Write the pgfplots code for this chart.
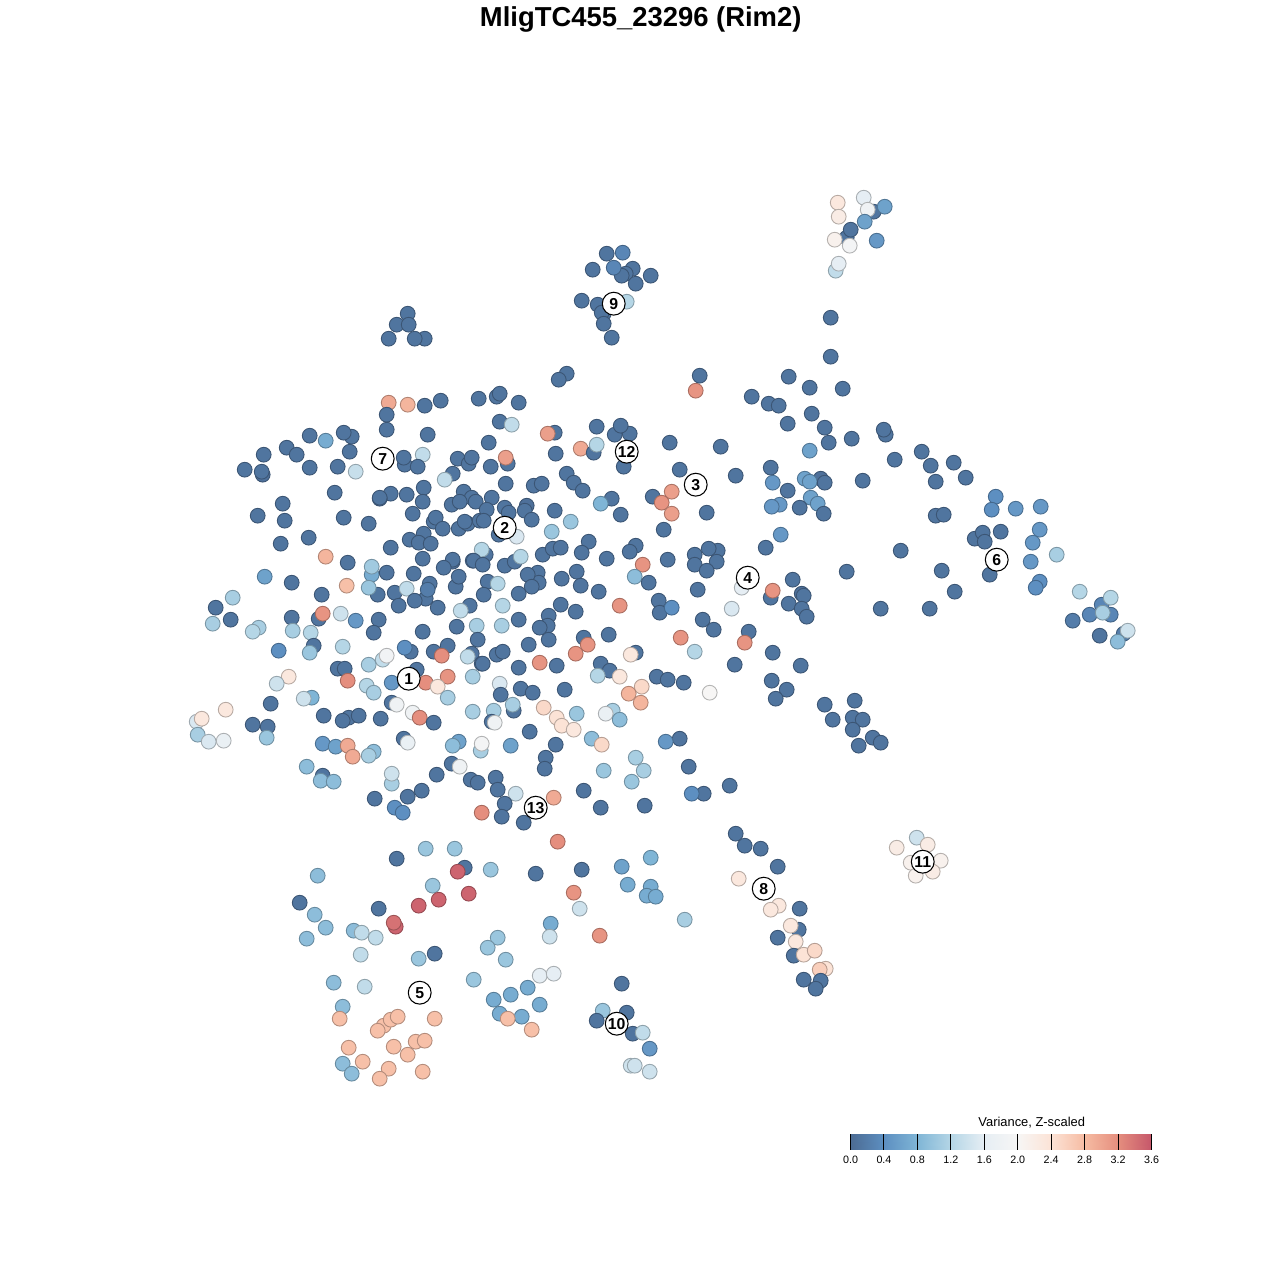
\documentclass[border=0pt]{standalone}
\usepackage{fontspec}
\setmainfont{Liberation Sans}
\usepackage{pgfplots}
\pgfplotsset{compat=1.18}
\pgfplotsset{colormap={vr}{rgb255=(76,108,148) rgb255=(93,143,193) rgb255=(127,181,214) rgb255=(181,214,230) rgb255=(230,238,244) rgb255=(247,246,245) rgb255=(252,227,214) rgb255=(246,187,162) rgb255=(229,142,126) rgb255=(197,86,106)}}
\begin{document}
\begin{tikzpicture}
\fill[white] (0,0) rectangle (12.8cm,12.8cm);
\useasboundingbox (0,0) rectangle (12.8cm,12.8cm);
\begin{axis}[at={(0,0)},anchor=south west,width=12.8cm,height=12.8cm,scale only axis,
  xmin=-0.7,xmax=1279.3,ymin=-0.7,ymax=1279.3,y dir=reverse,hide axis,clip=false,
  colormap name=vr,point meta min=0,point meta max=3.6]
\addplot[scatter,only marks,mark=*,mark size=2.1pt,
  scatter src=explicit,
  scatter/use mapped color={draw=black!27!mapped color,fill=mapped color},
  mark options={line width=0.25pt}]
 table[x index=0,y index=1,meta index=2] {
388 402 2.95
407 404 2.85
424 405 .1
440 400 .1
386 414 .1
386 429 .1
427 434 .1
309 435 .1
325 440 .7
351 436 .1
343 432 .1
263 454 .1
286 447 .1
296 454 .1
349 451 .1
244 469 .1
262 474 .05
261 471 .1
309 467 .1
337 466 .1
355 471 1.35
404 464 .1
403 457 .1
422 454 1.3
417 466 .1
457 458 .1
468 463 .1
471 457 .1
452 473 .1
444 479 1.3
334 492 .1
390 493 .1
379 498 .05
379 497 .1
406 494 .1
423 487 .1
422 501 .1
451 504 .1
463 491 .1
471 497 .1
475 501 .1
459 501 .1
282 503 .1
257 515 .1
284 520 .1
343 517 .1
368 523 .1
412 513 .1
433 521 .1
435 517 .1
442 528 .1
458 528 .1
467 523 .1
464 521 .1
479 520 .1
308 537 .1
280 543 .1
325 556 2.85
390 547 .1
423 533 .1
409 539 .1
418 542 .1
430 543 .1
422 558 .1
452 561 .05
452 559 .1
443 567 .1
472 560 .1
371 574 .7
371 566 1.05
347 562 .1
386 572 .1
413 573 .1
455 586 .1
458 576 .1
264 576 .6
291 582 .1
346 585 2.75
377 594 .1
368 587 1.0
394 592 .1
406 588 1.3
429 583 .1
425 598 .1
427 589 .2
414 600 .1
398 605 .1
437 607 .1
469 605 .1
460 610 1.3
321 594 .1
232 597 1.1
215 607 .1
212 623 1.1
230 619 .1
258 627 1.1
252 631 1.2
291 617 .1
292 630 1.1
318 618 .1
322 613 3.15
340 613 1.4
355 620 .5
378 619 .1
373 632 .1
310 632 1.2
313 645 .1
309 652 1.0
422 631 .1
456 626 .1
476 625 1.1
477 639 .1
278 650 .4
342 646 1.2
382 659 1.3
386 655 1.85
410 651 .1
404 647 .4
433 651 .1
447 645 .1
441 655 3.2
471 653 .1
467 656 1.3
481 663 .1
472 676 1.1
368 664 1.1
337 668 .1
344 668 .1
347 680 3.2
288 676 2.3
276 683 1.4
447 676 3.15
416 669 .1
391 682 .5
425 682 3.2
437 686 2.3
311 697 .8
303 698 1.4
270 703 .1
225 709 2.3
196 721 1.5
201 718 2.3
197 734 1.1
208 741 1.5
223 740 1.7
252 724 .1
267 726 .1
266 737 1.0
323 715 .1
348 717 .1
358 715 .1
342 720 .1
380 718 .1
366 685 1.2
373 692 1.1
391 702 .1
396 704 1.8
412 712 1.8
419 717 3.2
433 722 .1
447 697 1.1
472 711 1.1
403 738 .1
407 742 1.7
322 743 .5
335 746 .6
347 745 2.95
352 756 2.95
373 751 .9
368 755 1.1
458 741 .6
452 745 .9
306 766 .9
322 775 .1
320 780 .9
333 781 .9
391 783 1.1
391 773 1.4
436 774 .1
451 763 .1
459 766 1.8
470 779 .1
477 782 .1
421 790 .1
407 796 .1
374 798 .1
394 807 .4
402 812 .4
425 848 1.0
454 848 1.0
396 858 .1
518 667 .1
539 662 3.15
556 665 .1
499 683 1.5
500 694 .1
520 688 .1
532 692 .1
564 689 .1
600 663 .1
609 670 .1
597 675 1.2
619 676 2.3
656 676 .1
667 679 .1
683 682 .1
734 664 .1
709 692 2.0
641 686 2.5
628 693 2.85
640 702 2.85
543 707 2.5
513 710 .1
512 704 1.1
493 710 1.1
491 721 .1
494 722 1.8
556 717 2.4
561 725 2.4
573 729 2.3
576 713 1.0
612 710 1.1
605 713 1.7
619 719 .9
529 731 .1
555 744 .1
545 757 .1
544 768 .1
510 745 .6
480 750 1.1
481 743 1.9
591 738 .9
601 744 2.5
679 738 .1
665 741 .5
688 766 .1
635 757 1.1
643 770 1.1
603 770 1.0
631 781 1.0
729 785 .1
703 793 .1
691 793 .4
583 790 .1
600 807 .1
644 805 .1
553 797 2.95
515 793 1.4
495 777 .1
497 789 .1
504 803 .1
501 816 .1
481 812 3.2
523 822 .1
557 841 3.2
650 857 .8
735 833 .1
744 845 .1
760 848 .1
478 398 .1
496 396 .1
499 393 .1
518 402 .1
499 421 .1
511 424 1.3
554 432 .1
547 433 3.05
596 426 .1
614 434 .1
629 433 .1
620 425 .1
669 442 .1
720 446 .1
695 390 3.15
699 375 .1
488 442 .1
555 453 .1
580 448 2.95
593 452 .1
596 444 1.2
623 466 .1
490 466 .1
507 463 .1
505 457 3.05
679 469 .1
735 475 .1
566 473 .1
573 482 .1
582 490 .1
533 485 .1
541 483 .1
505 483 .1
491 497 .1
486 509 .1
504 507 .1
508 512 .1
526 505 .05
524 510 .1
531 519 .1
554 510 .1
483 520 .1
611 498 .1
600 503 .8
620 514 .1
652 496 .1
671 491 3.05
661 502 3.15
671 513 3.05
706 512 .1
663 529 .1
765 547 .1
570 521 1.0
551 531 1.0
498 534 .1
516 536 1.5
485 554 .1
481 549 1.2
473 560 .1
482 564 .1
504 565 .1
514 561 .1
520 556 1.2
542 554 .1
552 548 .1
560 547 .1
588 541 .1
581 552 .1
606 558 .1
635 545 .1
629 551 .1
642 564 3.15
634 576 .9
648 582 .1
667 559 .1
694 554 .1
694 564 .1
717 550 .1
708 548 .1
716 561 .1
706 570 .1
697 589 .1
741 587 1.6
731 608 1.5
537 572 .1
538 582 .1
527 574 .1
531 586 .1
561 578 .1
576 571 .1
580 585 .1
598 591 .1
487 581 .1
497 583 1.2
483 594 .1
518 593 .1
502 605 1.2
560 604 .1
575 611 .1
619 605 3.15
658 600 .1
659 612 .1
671 607 .4
702 619 .1
713 629 .1
548 615 .1
547 625 .1
539 627 .1
518 619 .1
501 625 1.1
548 639 .1
528 644 .1
583 637 .1
587 644 3.15
608 634 .1
575 653 3.15
680 637 3.15
748 631 .1
744 642 3.15
694 651 1.2
635 652 .1
630 654 2.3
496 654 .1
502 651 .1
482 663 .1
788 376 .1
809 387 .1
842 388 .1
751 396 .1
768 403 .1
778 405 .1
811 413 .1
787 423 .1
824 427 .1
828 442 .1
851 438 .1
885 434 .1
883 429 .1
809 450 .6
894 459 .1
921 451 .1
930 465 .1
953 462 .1
965 477 .1
935 481 .1
770 467 .1
772 482 .5
787 490 .1
820 478 .05
804 478 .6
809 481 .6
824 482 .1
862 480 .1
810 497 .6
817 503 .6
779 504 .5
771 506 .5
799 507 .1
823 513 .1
995 496 .4
991 509 .4
1015 508 .5
1040 506 .5
935 515 .1
943 514 .1
974 538 .1
982 532 .1
984 541 .1
1000 531 .1
1039 529 .5
1032 542 .5
780 534 .5
1056 554 1.1
1030 561 .5
900 550 .1
941 570 .1
846 571 .1
989 574 .1
792 579 .1
1039 581 .4
1035 587 .4
954 591 .1
1079 591 1.2
1101 604 .3
1110 597 1.2
1089 614 .3
1110 614 .3
1102 612 1.1
1072 620 .2
1099 635 .1
1123 633 .2
1127 630 1.4
1117 641 .9
770 597 .1
772 590 3.15
801 593 .05
803 595 .1
788 603 .1
801 608 .1
806 616 .1
880 608 .1
929 608 .1
772 652 .1
407 313 .1
396 324 .1
408 324 .1
388 338 .1
424 338 .1
414 338 .1
606 253 .1
622 252 .3
592 269 .1
632 268 .1
625 273 .1
621 275 .1
613 267 .3
650 275 .1
635 283 .1
581 300 .1
597 304 .1
603 313 .1
626 301 1.2
601 312 .1
603 323 .1
611 337 .1
837 202 2.3
838 216 2.2
863 197 1.6
873 211 .1
867 209 1.8
884 206 .6
864 221 .6
846 237 .1
850 229 .1
834 239 2.1
849 245 1.9
876 240 .5
835 270 1.3
838 263 1.6
830 317 .1
830 356 .1
566 373 .1
558 379 .1
800 665 .1
771 680 .1
786 689 .1
775 698 .1
824 704 .1
854 700 .1
832 719 .1
852 717 .1
862 719 .1
852 729 .1
872 737 .1
880 742 .1
858 745 .1
777 866 .1
738 878 2.3
916 837 1.4
927 844 2.2
896 847 2.2
940 860 2.1
910 862 2.1
932 871 2.2
915 875 2.1
778 905 2.3
770 909 2.3
799 908 .1
684 919 1.1
798 929 .1
790 925 2.3
777 937 .1
795 941 2.3
793 955 .1
803 954 2.4
814 950 2.5
825 968 2.4
819 969 2.6
803 979 .1
820 980 .1
815 988 .1
464 867 .1
457 871 3.5
490 869 1.0
317 875 .9
432 885 1.0
299 902 .1
468 893 3.5
438 899 3.5
418 905 3.5
314 914 .9
378 908 .1
395 926 3.5
393 922 3.4
325 927 .9
353 930 .9
361 932 1.3
375 937 1.3
306 938 .9
360 954 1.3
434 953 .1
418 958 1.0
497 937 1.0
487 947 1.0
505 959 1.0
333 982 .9
364 986 1.3
473 979 1.0
342 1006 .9
339 1018 2.75
434 1018 2.75
383 1025 2.75
390 1019 2.75
377 1030 2.75
397 1016 2.75
348 1047 2.75
393 1046 2.75
415 1041 2.75
424 1040 2.75
407 1054 2.75
362 1061 2.75
342 1063 .9
351 1073 .9
388 1068 2.75
379 1078 2.75
422 1071 2.75
621 866 .6
535 873 .1
581 869 .1
627 884 .7
650 886 .7
646 895 .7
655 896 .7
573 892 3.15
579 908 1.4
550 923 .7
549 936 1.4
599 935 3.15
539 975 1.6
553 973 1.6
621 983 .1
527 987 .7
510 994 .7
493 999 .7
539 1004 .7
499 1013 .7
521 1016 .7
507 1018 2.75
531 1029 2.75
602 1010 1.0
626 1012 .1
596 1020 .1
632 1033 .1
642 1032 1.3
649 1048 .5
630 1065 1.4
634 1065 1.4
649 1071 1.4
};
\addplot[only marks,mark=*,mark size=3.25pt,
  mark options={draw=black,fill=white,line width=0.3pt},
  point meta=explicit symbolic,
  nodes near coords,
  nodes near coords align={center},
  every node near coord/.append style={font=\fontsize{4.5}{5}\selectfont\bfseries,text=black,inner sep=0pt}]
 table[x index=0,y index=1,meta index=2] {
408 678 1
504 527 2
695 484 3
747 577 4
419 992 5
996 559 6
382 458 7
763 888 8
613 303 9
616 1023 10
922 861 11
626 451 12
535 807 13
};
\node[font=\fontsize{7.8}{9}\selectfont\bfseries,text=black,inner sep=0pt] at (axis cs:640,18.5) {MligTC455\_23296 (Rim2)};
\node[font=\fontsize{3.67}{4}\selectfont,text=black,inner sep=0pt] at (axis cs:1031,1122) {Variance, Z-scaled};
\end{axis}
\begin{axis}[at={(8.505cm,1.30cm)},anchor=south west,width=3.01cm,height=0.16cm,scale only axis,
  xmin=0,xmax=3.6,ymin=0,ymax=1,colormap name=vr,point meta min=0,point meta max=3.6,
  axis line style={draw=none},axis on top,ytick=\empty,
  xtick={0,0.4,0.8,1.2,1.6,2.0,2.4,2.8,3.2,3.6},
  xticklabels={0.0,0.4,0.8,1.2,1.6,2.0,2.4,2.8,3.2,3.6},
  tick align=inside,major tick length=0.16cm,
  xtick pos=bottom,
  tick style={draw=black,line width=0.3pt},
  xticklabel style={font=\fontsize{3.05}{4}\selectfont,text=black,inner sep=0pt,yshift=-1.6pt}]
\addplot[surf,shader=interp,mesh/rows=2,point meta=x] table {
0 0
0.4 0
0.8 0
1.2 0
1.6 0
2.0 0
2.4 0
2.8 0
3.2 0
3.6 0
0 1
0.4 1
0.8 1
1.2 1
1.6 1
2.0 1
2.4 1
2.8 1
3.2 1
3.6 1
};
\end{axis}
\end{tikzpicture}
\end{document}
